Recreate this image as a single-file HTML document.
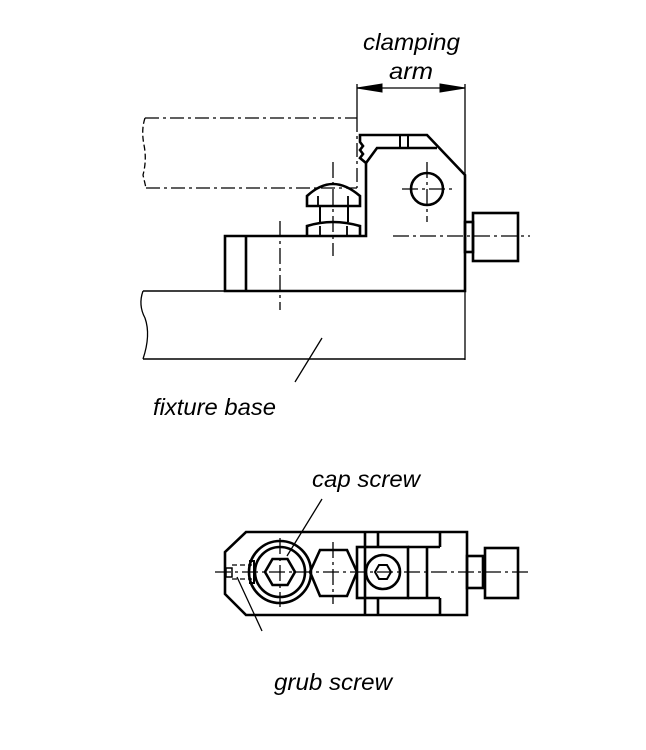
<!DOCTYPE html>
<html><head><meta charset="utf-8"><style>html,body{margin:0;padding:0;background:#fff}svg{display:block}</style></head>
<body>
<svg width="646" height="750" viewBox="0 0 646 750" xmlns="http://www.w3.org/2000/svg">
<g fill="none" stroke="#000" stroke-linejoin="miter">
<!-- phantom arm -->
<g stroke-width="1.3" stroke-dasharray="14,4,3,4">
<line x1="145" y1="118" x2="357" y2="118"/>
<line x1="146" y1="188" x2="357" y2="188"/>
<line x1="357" y1="118" x2="357" y2="188"/>
</g>
<path d="M145 118 Q141 130 144 145 Q147 160 143 175 L146 188" stroke-width="1.3" stroke-dasharray="6,3"/>
<!-- dimension -->
<line x1="357" y1="84" x2="357" y2="118" stroke-width="1.3"/>
<line x1="465" y1="84" x2="465" y2="360" stroke-width="1.3"/>
<line x1="357" y1="88" x2="465" y2="88" stroke-width="1.3"/>
<path d="M357 88 L382 84 L382 92 Z M465 88 L440 84 L440 92 Z" fill="#000"/>
<!-- fixture base -->
<path d="M143 291 L465 291 M143 359 L465 359" stroke-width="1.5"/>
<path d="M143 291 Q138 305 145 318 Q151 335 143 359" stroke-width="1.3"/>
<!-- block -->
<g stroke-width="2.6">
<path d="M225 236 L366 236 L366 163 L360 158 L363 154 L360 150 L363 146 L360 142 L360 135 L427 135 L465 175 L465 291 L225 291 Z"/>
<line x1="246" y1="236" x2="246" y2="291"/>
<path d="M366 163 L377 148 L437 148"/>
<path d="M400 135 L400 148 M408 135 L408 148" stroke-width="2"/>
<circle cx="427" cy="189" r="16"/>
<!-- nuts -->
<path d="M307 206 L307 196 Q320 184 333 184 Q346 184 360 196 L360 206 Z"/>
<path d="M307 236 L307 226 Q320 222 333 222 Q346 222 360 226 L360 236"/>
<path d="M320 206 L320 222 M348 206 L348 222" stroke-width="2"/>
<path d="M318 196 L318 206 M348 196 L348 206 M320 226 L320 236 M347 226 L347 236" stroke-width="1.8"/>
<!-- side screw -->
<rect x="465" y="222" width="8" height="30"/>
<rect x="473" y="213" width="45" height="48"/>
</g>
<g stroke-width="1.3" stroke-dasharray="16,4,3,4">
<line x1="333" y1="162" x2="333" y2="256"/>
<line x1="280" y1="221" x2="280" y2="310"/>
<line x1="393" y1="236" x2="530" y2="236"/>
<line x1="402" y1="189" x2="452" y2="189"/>
<line x1="427" y1="162" x2="427" y2="222"/>
</g>
<line x1="322" y1="338" x2="295" y2="382" stroke-width="1.3"/>
<!-- bottom view -->
<g stroke-width="2.6">
<path d="M246 532 L467 532 L467 615 L246 615 L225 594 L225 552 Z"/>
<circle cx="280" cy="572" r="31"/>
<circle cx="280" cy="572" r="25"/>
<polygon points="295,572 287.5,585 272.5,585 265,572 272.5,559 287.5,559"/>
<polygon points="310,572 320,550 347,550 357,572 347,596 320,596"/>
<rect x="357" y="547" width="51" height="51"/>
<circle cx="383" cy="572" r="17"/>
<polygon points="391,572 387,579 379,579 375,572 379,565 387,565" stroke-width="2"/>
<path d="M365 532 L365 615 M378 532 L378 547 M378 598 L378 615 M440 532 L440 547 M440 598 L440 615 M427 547 L427 598 M408 547 L440 547 M408 598 L440 598"/>
<rect x="467" y="556" width="16" height="32"/>
<rect x="485" y="548" width="33" height="50"/>
<rect x="226" y="568" width="6" height="9" stroke-width="1.5"/>
<path d="M249 561 L254 561 L254 583 L249 583" stroke-width="2"/>
</g>
<path d="M232 565 L252 565 M232 579 L252 579" stroke-width="1.3" stroke-dasharray="5,3"/>
<g stroke-width="1.3" stroke-dasharray="16,4,3,4">
<line x1="215" y1="572" x2="528" y2="572"/>
<line x1="280" y1="538" x2="280" y2="607"/>
<line x1="333" y1="542" x2="333" y2="604"/>
</g>
<line x1="322" y1="499" x2="287" y2="556" stroke-width="1.3"/>
<line x1="237" y1="577" x2="262" y2="631" stroke-width="1.3"/>
</g>
<g font-family="Liberation Sans, sans-serif" font-style="italic" font-size="23" fill="#000">
<text x="363" y="50" textLength="97" lengthAdjust="spacingAndGlyphs">clamping</text>
<text x="389" y="79" textLength="44" lengthAdjust="spacingAndGlyphs">arm</text>
<text x="153" y="415" textLength="123" lengthAdjust="spacingAndGlyphs">fixture base</text>
<text x="312" y="487" textLength="108" lengthAdjust="spacingAndGlyphs">cap screw</text>
<text x="274" y="690" textLength="118" lengthAdjust="spacingAndGlyphs">grub screw</text>
</g>
</svg>
</body></html>
